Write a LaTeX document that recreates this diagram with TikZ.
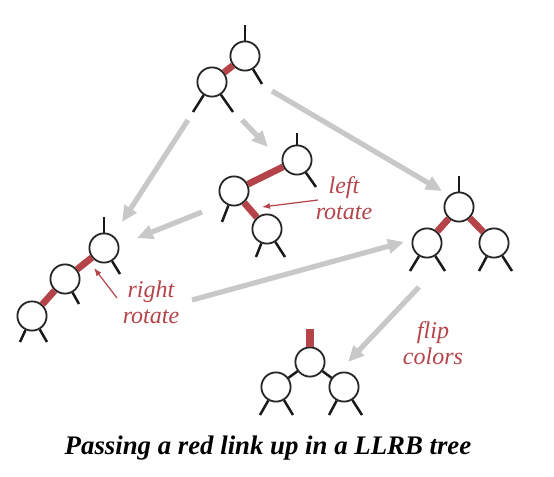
\documentclass[tikz,border=0pt]{standalone}
\usepackage{fontspec}
\setmainfont{Liberation Serif}
\usepackage{tikz}
\usetikzlibrary{arrows.meta}

\definecolor{llrbred}{RGB}{180,68,74}
\definecolor{movegray}{RGB}{200,200,200}

\begin{document}
\begin{tikzpicture}[
      x=0.5pt, y=-0.5pt,
      key/.style={circle, draw=black!85, line width=0.9pt, fill=white, minimum size=14.6pt, inner sep=0pt},
      leg/.style={line width=1.25pt, black!90},
      redlink/.style={line width=3.4pt, llrbred},
      move/.style={-{Triangle[length=8pt, width=7pt]}, line width=2.6pt, movegray},
      pointer/.style={-{Latex[length=4pt, width=3pt]}, line width=0.6pt, llrbred},
      note/.style={align=center, text=llrbred, font=\fontsize{12}{12.8}\selectfont\itshape},
      caption/.style={font=\fontsize{13.4}{15}\selectfont\bfseries\itshape}
      ]

      \useasboundingbox (0,0) rectangle (554,477);

      % Start: red link on the right
      \node[key] (top1) at (245,56) {};
      \node[key] (top2) at (212,82) {};

      % After left rotate
      \node[key] (mid1) at (297,160) {};
      \node[key] (mid2) at (234,191) {};
      \node[key] (mid3) at (267,229) {};

      % After right rotate
      \node[key] (lft1) at (104,248) {};
      \node[key] (lft2) at (65,279) {};
      \node[key] (lft3) at (32,316) {};

      % Both children red
      \node[key] (rgt1) at (459,207) {};
      \node[key] (rgt2) at (427,243) {};
      \node[key] (rgt3) at (494,243) {};

      % After flip colors
      \node[key] (bot1) at (310,362) {};
      \node[key] (bot2) at (276,387) {};
      \node[key] (bot3) at (344,387) {};

      % Links
      \draw[redlink] (top1) -- (top2);
      \draw[redlink] (mid1) -- (mid2);
      \draw[redlink] (mid2) -- (mid3);
      \draw[redlink] (lft1) -- (lft2);
      \draw[redlink] (lft2) -- (lft3);
      \draw[redlink] (rgt1) -- (rgt2);
      \draw[redlink] (rgt1) -- (rgt3);
      \draw[leg] (bot1) -- (bot2);
      \draw[leg] (bot1) -- (bot3);
      \draw[line width=3.6pt, llrbred] (bot1) -- ++(0,-33);

      % Legs
      \draw[leg] (top1) -- ++(0,-31);
      \draw[leg] (top1) -- ++(17,28);
      \draw[leg] (top2) -- ++(-19,30);
      \draw[leg] (top2) -- ++(21,30);

      \draw[leg] (mid1) -- ++(0,-27);
      \draw[leg] (mid1) -- ++(19,27);
      \draw[leg] (mid2) -- ++(-12,31);
      \draw[leg] (mid3) -- ++(-11,28);
      \draw[leg] (mid3) -- ++(18,28);

      \draw[leg] (lft1) -- ++(0,-31);
      \draw[leg] (lft1) -- ++(16,26);
      \draw[leg] (lft2) -- ++(14,25);
      \draw[leg] (lft3) -- ++(-12,26);
      \draw[leg] (lft3) -- ++(15,26);

      \draw[leg] (rgt1) -- ++(0,-31);
      \draw[leg] (rgt2) -- ++(-17,28);
      \draw[leg] (rgt2) -- ++(18,28);
      \draw[leg] (rgt3) -- ++(-15,28);
      \draw[leg] (rgt3) -- ++(18,28);

      \draw[leg] (bot2) -- ++(-16,28);
      \draw[leg] (bot2) -- ++(17,28);
      \draw[leg] (bot3) -- ++(-15,28);
      \draw[leg] (bot3) -- ++(18,28);

      % Labels
      \node[note] (lrot) at (344,198) {left\\rotate};
      \node[note] (rrot) at (151,302) {right\\rotate};
      \node[note] (flip) at (433,343) {flip\\colors};
      \node[caption] (title) at (268,448) {Passing a red link up in a LLRB tree};

      % Pointers to the rotated links
      \coordinate (lrotS) at (318,200);
      \coordinate (lrotE) at (262,207);
      \coordinate (rrotS) at (117,298);
      \coordinate (rrotE) at (94,268);
      \draw[pointer] (lrotS) -- (lrotE);
      \draw[pointer] (rrotS) -- (rrotE);

      % Gray arrows between trees
      \coordinate (go1S) at (188,120);
      \coordinate (go1E) at (122,222);
      \coordinate (go2S) at (242,120);
      \coordinate (go2E) at (268,147);
      \coordinate (go3S) at (272,91);
      \coordinate (go3E) at (442,191);
      \coordinate (go4S) at (202,212);
      \coordinate (go4E) at (137,238);
      \coordinate (go5S) at (192,300);
      \coordinate (go5E) at (404,242);
      \coordinate (go6S) at (419,287);
      \coordinate (go6E) at (348,362);
      \draw[move] (go1S) -- (go1E);
      \draw[move] (go2S) -- (go2E);
      \draw[move] (go3S) -- (go3E);
      \draw[move] (go4S) -- (go4E);
      \draw[move] (go5S) -- (go5E);
      \draw[move] (go6S) -- (go6E);

   \end{tikzpicture}
\end{document}
